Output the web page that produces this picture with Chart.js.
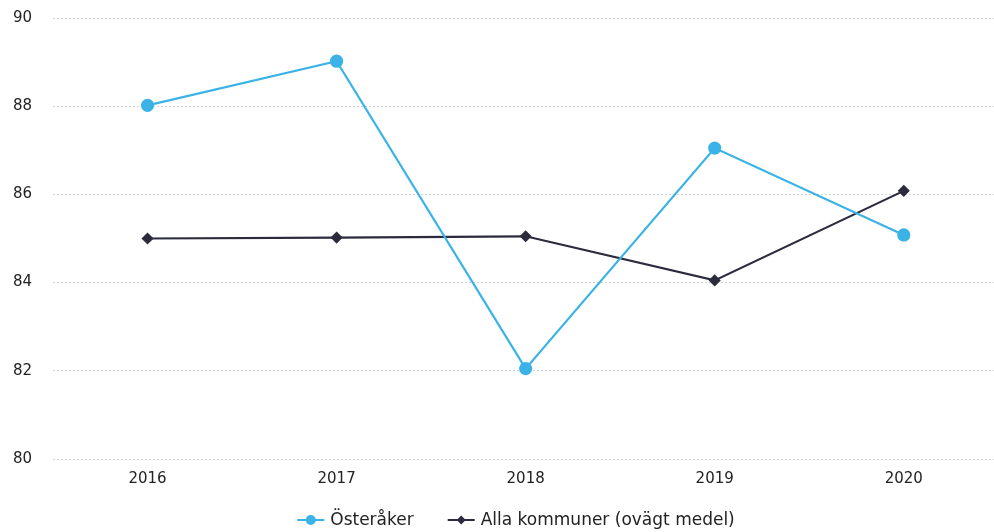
<!DOCTYPE html>
<html>
<head>
<meta charset="utf-8">
<script src="https://cdn.jsdelivr.net/npm/chart.js@4"></script>
<style>
  html, body { margin: 0; padding: 0; background: #fff; overflow: hidden; }
  #wrap { width: 1006px; height: 532px; }
</style>
</head>
<body>
<div id="wrap"><canvas id="lineChart"></canvas></div>
<script>
const years = ['2016', '2017', '2018', '2019', '2020'];
const osteraker = [88.02, 89.02, 82.05, 87.05, 85.08];
const allaKommuner = [85.0, 85.02, 85.05, 84.05, 86.08];
const yTicks = [80, 82, 84, 86, 88, 90];

const blue = '#3bb3e6';
const dark = '#2b2b3d';

// legend drawn by hand: line + marker, then label, centred under the plot
const lineLegend = {
  id: 'lineLegend',
  afterDraw(chart, args, opts) {
    const g = chart.ctx;
    const items = chart.data.datasets;
    g.save();
    g.font = opts.font;
    g.textBaseline = 'middle';
    g.textAlign = 'left';
    const iconW = 27, iconGap = 6, itemGap = 34;
    const widths = items.map(ds => iconW + iconGap + g.measureText(ds.label).width);
    const total = widths.reduce((a, b) => a + b, 0) + itemGap * (items.length - 1);
    let x = opts.centerX - total / 2;
    const y = opts.y;
    items.forEach((ds, i) => {
      g.strokeStyle = ds.borderColor;
      g.fillStyle = ds.borderColor;
      g.lineWidth = 2;
      g.beginPath();
      g.moveTo(x, y);
      g.lineTo(x + iconW, y);
      g.stroke();
      const cx = x + iconW / 2;
      g.beginPath();
      if (ds.pointStyle === 'circle') {
        g.arc(cx, y, 5, 0, Math.PI * 2);
      } else {
        g.moveTo(cx, y - 4.5); g.lineTo(cx + 4.5, y); g.lineTo(cx, y + 4.5); g.lineTo(cx - 4.5, y);
        g.closePath();
      }
      g.fill();
      g.fillStyle = '#222';
      g.fillText(ds.label, x + iconW + iconGap, y + 1);
      x += widths[i] + itemGap;
    });
    g.restore();
  },
};

document.addEventListener('DOMContentLoaded', () => {
  const ctx = document.getElementById('lineChart').getContext('2d');

  new Chart(ctx, {
    type: 'line',
    data: {
      labels: years,
      datasets: [{
        label: 'Österåker',
        data: osteraker,
        borderColor: blue,
        backgroundColor: blue,
        borderWidth: 2.2,
        pointStyle: 'circle',
        pointRadius: 5.5,
        pointHoverRadius: 5.5,
        tension: 0,
      }, {
        label: 'Alla kommuner (ovägt medel)',
        data: allaKommuner,
        borderColor: dark,
        backgroundColor: dark,
        borderWidth: 2.2,
        pointStyle: 'rectRot',
        pointRadius: 4.5,
        pointHoverRadius: 4.5,
        tension: 0,
      }],
    },
    plugins: [lineLegend],
    options: {
      responsive: true,
      maintainAspectRatio: false,
      animation: false,
      layout: { padding: { top: 0, left: 0, right: 2, bottom: 0 } },
      plugins: {
        tooltip: { enabled: false },
        legend: { display: false },
        lineLegend: { font: '17px "DejaVu Sans"', centerX: 516, y: 520 },
      },
      scales: {
        x: {
          offset: true,
          grid: { display: false },
          border: { display: false },
          afterFit: (axis) => { axis.height = 73; },
          ticks: {
            color: '#222',
            padding: 3,
            font: { family: 'DejaVu Sans', size: 15 },
          },
        },
        y: {
          min: 80,
          max: 90,
          afterBuildTicks: (axis) => { axis.ticks = yTicks.map(v => ({ value: v })); },
          afterFit: (axis) => { axis.width = 53; axis.paddingTop = 18; },
          grid: {
            color: '#cfd3dd',
            lineWidth: 1,
            drawTicks: false,
          },
          border: { display: false, dash: [2, 2] },
          ticks: {
            color: '#222',
            padding: 21,
            font: { family: 'DejaVu Sans', size: 15 },
          },
        },
      },
    },
  });
});
</script>
</body>
</html>
